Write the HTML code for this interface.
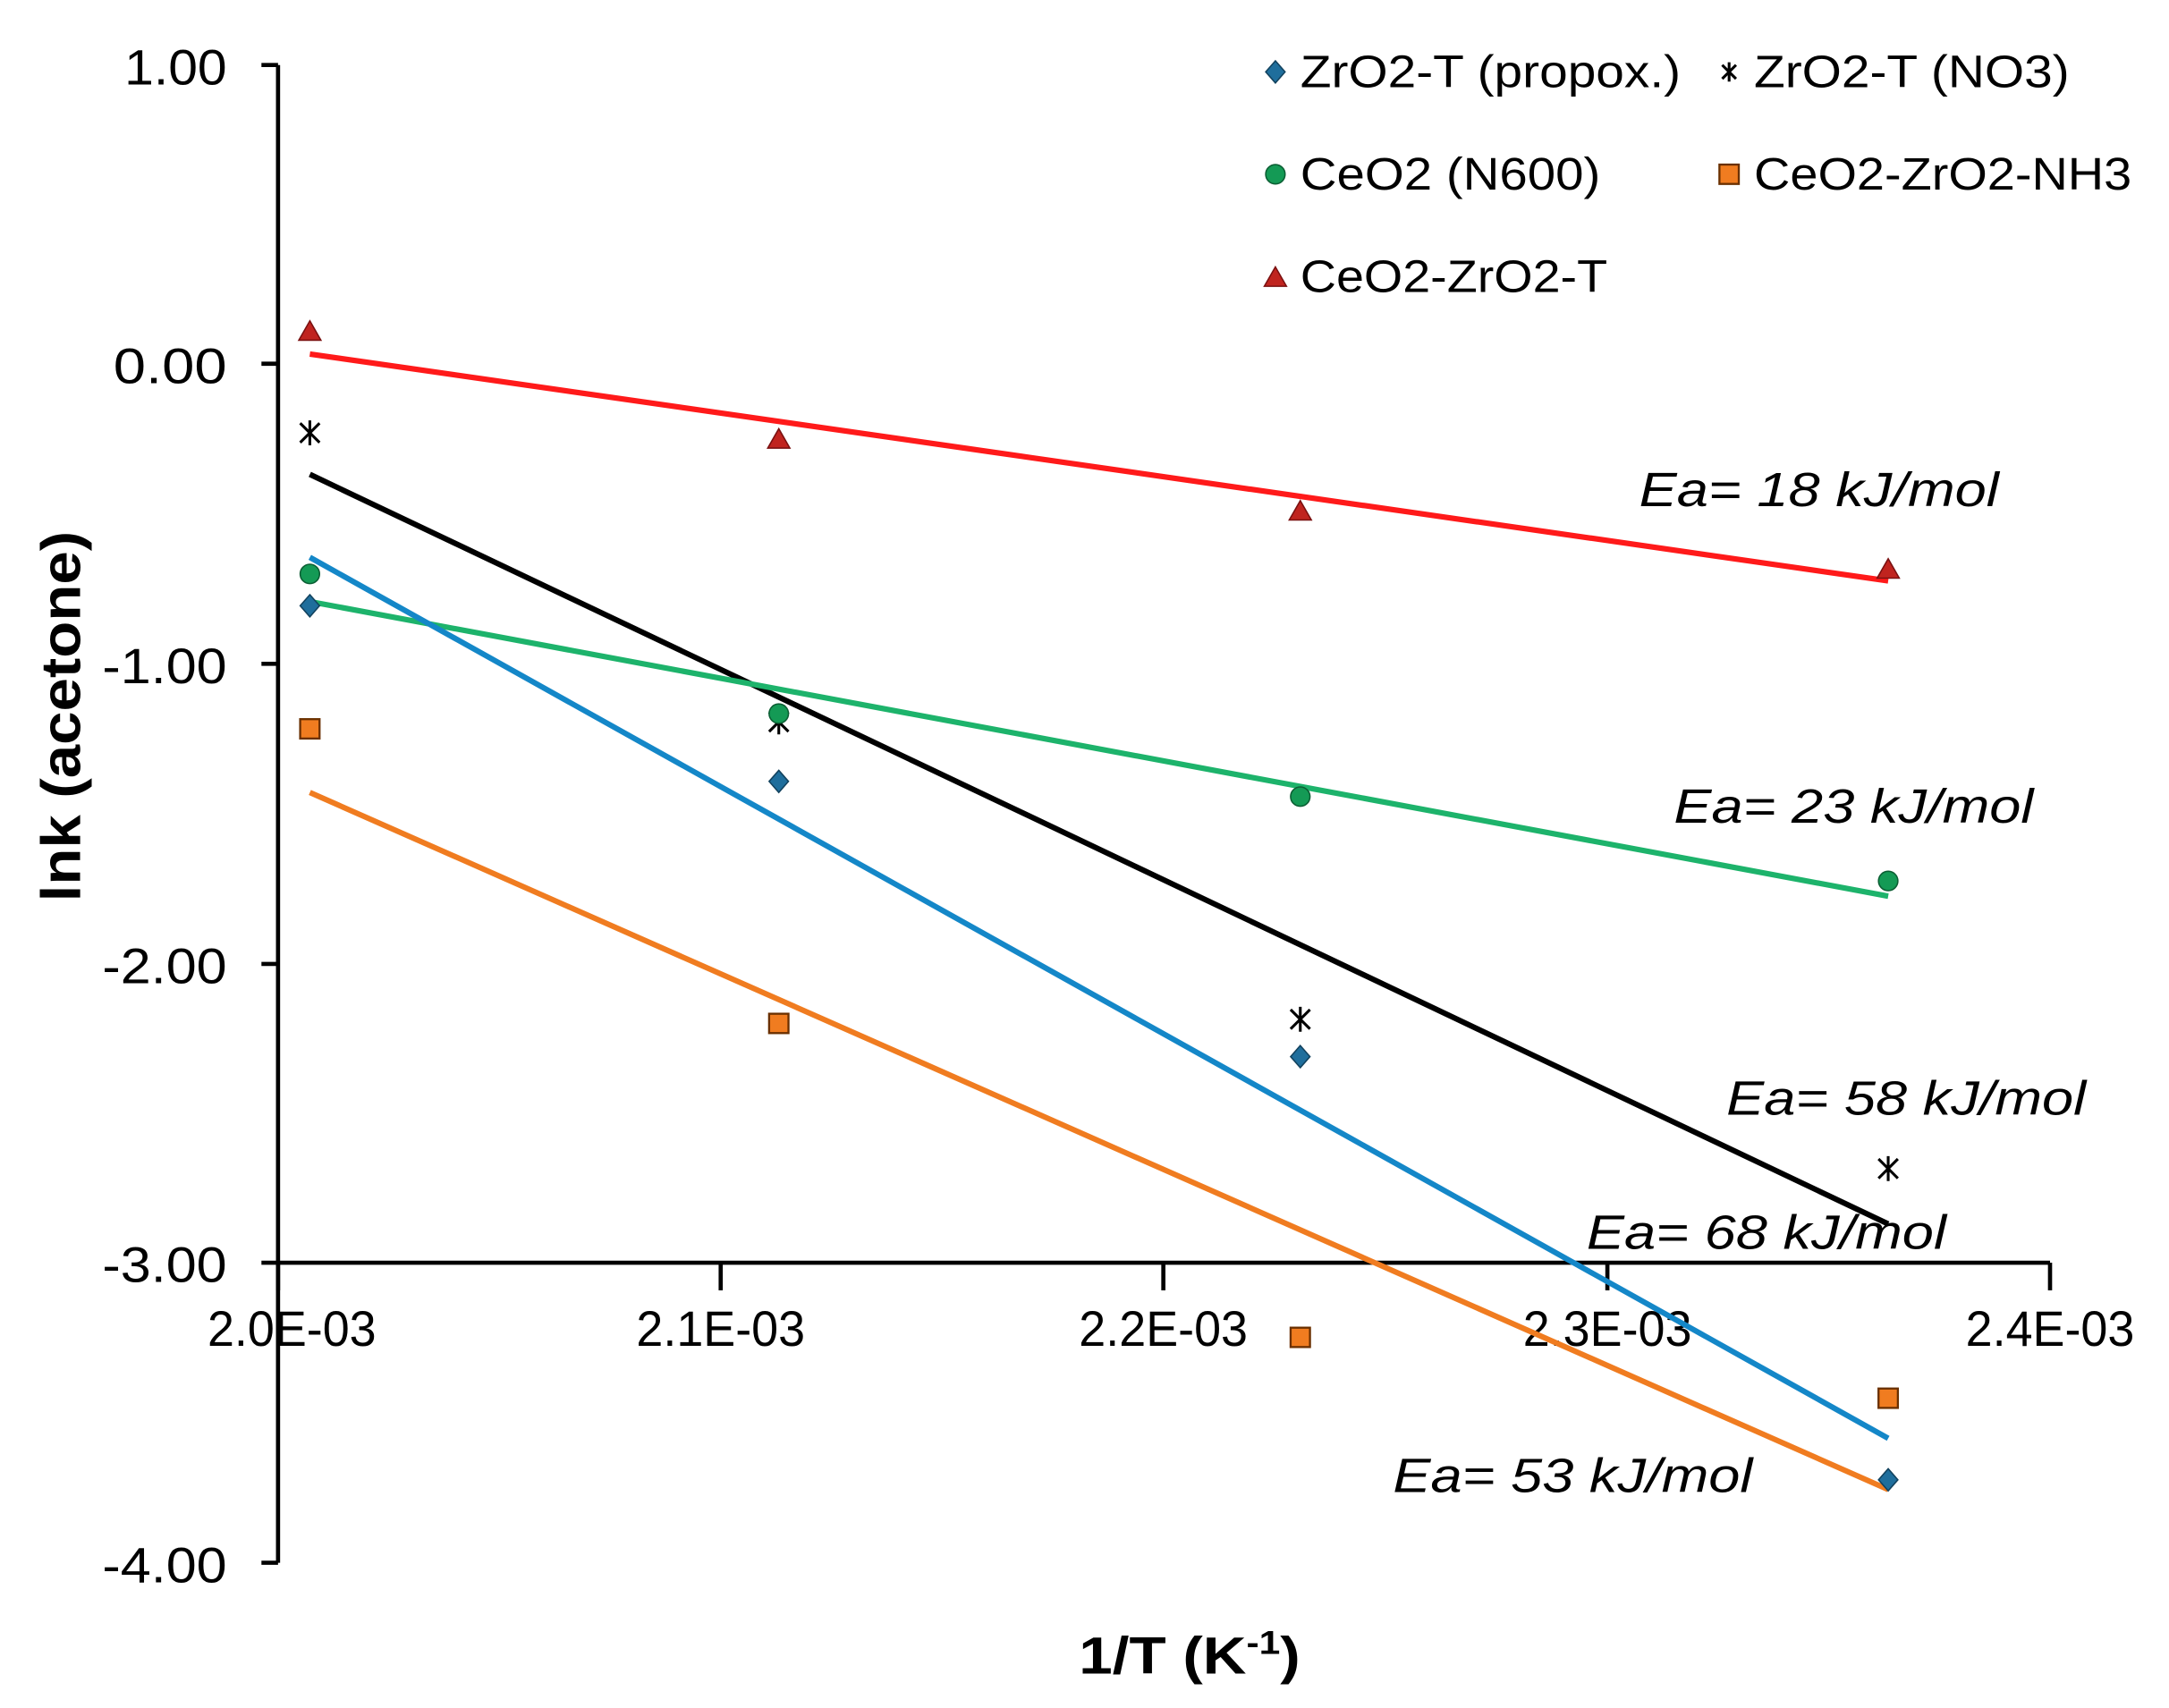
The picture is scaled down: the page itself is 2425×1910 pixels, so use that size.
<!DOCTYPE html>
<html><head><style>html,body{margin:0;padding:0;background:#fff}svg{display:block}</style></head>
<body>
<svg width="2425" height="1910" viewBox="0 0 1568 1235" preserveAspectRatio="none" xmlns="http://www.w3.org/2000/svg" font-family="Liberation Sans, sans-serif">
<rect width="1568" height="1235" fill="#fff"/>
<g stroke="#000" stroke-width="3">
<line x1="201" y1="47" x2="201" y2="1130"/>
<line x1="201" y1="913" x2="1482" y2="913"/>
<line x1="189" y1="47" x2="201" y2="47"/><line x1="189" y1="263" x2="201" y2="263"/>
<line x1="189" y1="480" x2="201" y2="480"/><line x1="189" y1="697" x2="201" y2="697"/>
<line x1="189" y1="913" x2="201" y2="913"/><line x1="189" y1="1130" x2="201" y2="1130"/>
<line x1="201" y1="913" x2="201" y2="933"/><line x1="521" y1="913" x2="521" y2="933"/>
<line x1="841" y1="913" x2="841" y2="933"/><line x1="1162" y1="913" x2="1162" y2="933"/>
<line x1="1482" y1="913" x2="1482" y2="933"/>
</g>
<g font-size="36" text-anchor="end" fill="#000" lengthAdjust="spacingAndGlyphs">
<text x="164" y="61" textLength="74" lengthAdjust="spacingAndGlyphs">1.00</text>
<text x="164" y="277" textLength="82" lengthAdjust="spacingAndGlyphs">0.00</text>
<text x="164" y="494" textLength="90" lengthAdjust="spacingAndGlyphs">-1.00</text>
<text x="164" y="711" textLength="90" lengthAdjust="spacingAndGlyphs">-2.00</text>
<text x="164" y="927" textLength="90" lengthAdjust="spacingAndGlyphs">-3.00</text>
<text x="164" y="1144" textLength="90" lengthAdjust="spacingAndGlyphs">-4.00</text>
</g>
<g font-size="36" text-anchor="middle" fill="#000">
<text x="211" y="973" textLength="122" lengthAdjust="spacingAndGlyphs">2.0E-03</text>
<text x="521" y="973" textLength="122" lengthAdjust="spacingAndGlyphs">2.1E-03</text>
<text x="841" y="973" textLength="122" lengthAdjust="spacingAndGlyphs">2.2E-03</text>
<text x="1162" y="973" textLength="122" lengthAdjust="spacingAndGlyphs">2.3E-03</text>
<text x="1482" y="973" textLength="122" lengthAdjust="spacingAndGlyphs">2.4E-03</text>
</g>
<text x="780" y="1210" font-size="38" font-weight="bold" textLength="160" lengthAdjust="spacingAndGlyphs">1/T (K<tspan font-size="24" dy="-14">-1</tspan><tspan dy="14">)</tspan></text>
<text transform="translate(58,518) rotate(-90)" font-size="40" font-weight="bold" text-anchor="middle" textLength="268" lengthAdjust="spacingAndGlyphs">lnk (acetone)</text>
<g stroke-width="4" fill="none">
<line x1="224" y1="256" x2="1365" y2="420" stroke="#ff1a1a"/>
<line x1="224" y1="343" x2="1365" y2="885" stroke="#000"/>
<line x1="224" y1="435" x2="1365" y2="648" stroke="#1db36b"/>
<line x1="224" y1="403" x2="1365" y2="1040" stroke="#1487c8"/>
<line x1="224" y1="573" x2="1365" y2="1077" stroke="#f07c20"/>
</g>
<g fill="#c0241f" stroke="#7a1010" stroke-width="1">
<path d="M224 232 l8 14 h-16z"/><path d="M563 310 l8 14 h-16z"/><path d="M940 362 l8 14 h-16z"/><path d="M1365 404 l8 14 h-16z"/>
<path d="M922 193 l8 14 h-16z"/>
</g>
<g stroke="#000" stroke-width="2">
<path d="M224 304 v18 M217 306 l14 14 M231 306 l-14 14"/>
<path d="M563 513 v18 M556 515 l14 14 M570 515 l-14 14"/>
<path d="M940 728 v18 M933 730 l14 14 M947 730 l-14 14"/>
<path d="M1365 836 v18 M1358 838 l14 14 M1372 838 l-14 14"/>
<path d="M1250 45 v14 M1245 47 l10 10 M1255 47 l-10 10"/>
</g>
<g fill="#149a55" stroke="#0b5e33" stroke-width="1">
<circle cx="224" cy="415" r="7"/><circle cx="563" cy="516" r="7"/><circle cx="940" cy="576" r="7"/><circle cx="1365" cy="637" r="7"/><circle cx="922" cy="126" r="7"/>
</g>
<g fill="#1f6e9c" stroke="#12425e" stroke-width="1">
<path d="M224 430 l7 8 -7 8 -7 -8z"/><path d="M563 557 l7 8 -7 8 -7 -8z"/><path d="M940 756 l7 8 -7 8 -7 -8z"/><path d="M1365 1062 l7 8 -7 8 -7 -8z"/><path d="M922 44 l7 8 -7 8 -7 -8z"/>
</g>
<g fill="#f07c20" stroke="#6a3000" stroke-width="1.5">
<rect x="217" y="520" width="14" height="14"/><rect x="556" y="733" width="14" height="14"/><rect x="933" y="960" width="14" height="14"/><rect x="1358" y="1004" width="14" height="14"/><rect x="1243" y="119" width="14" height="14"/>
</g>
<g font-size="33" fill="#000">
<text x="940" y="63" textLength="275" lengthAdjust="spacingAndGlyphs">ZrO2-T (propox.)</text>
<text x="1268" y="63" textLength="228" lengthAdjust="spacingAndGlyphs">ZrO2-T (NO3)</text>
<text x="940" y="137" textLength="217" lengthAdjust="spacingAndGlyphs">CeO2 (N600)</text>
<text x="1268" y="137" textLength="273" lengthAdjust="spacingAndGlyphs">CeO2-ZrO2-NH3</text>
<text x="940" y="211" textLength="222" lengthAdjust="spacingAndGlyphs">CeO2-ZrO2-T</text>
</g>
<g font-size="35" font-style="italic" fill="#000">
<text x="1185" y="366" textLength="260" lengthAdjust="spacingAndGlyphs">Ea= 18 kJ/mol</text>
<text x="1210" y="595" textLength="260" lengthAdjust="spacingAndGlyphs">Ea= 23 kJ/mol</text>
<text x="1248" y="806" textLength="260" lengthAdjust="spacingAndGlyphs">Ea= 58 kJ/mol</text>
<text x="1147" y="903" textLength="260" lengthAdjust="spacingAndGlyphs">Ea= 68 kJ/mol</text>
<text x="1007" y="1079" textLength="260" lengthAdjust="spacingAndGlyphs">Ea= 53 kJ/mol</text>
</g>
</svg>
</body></html>
